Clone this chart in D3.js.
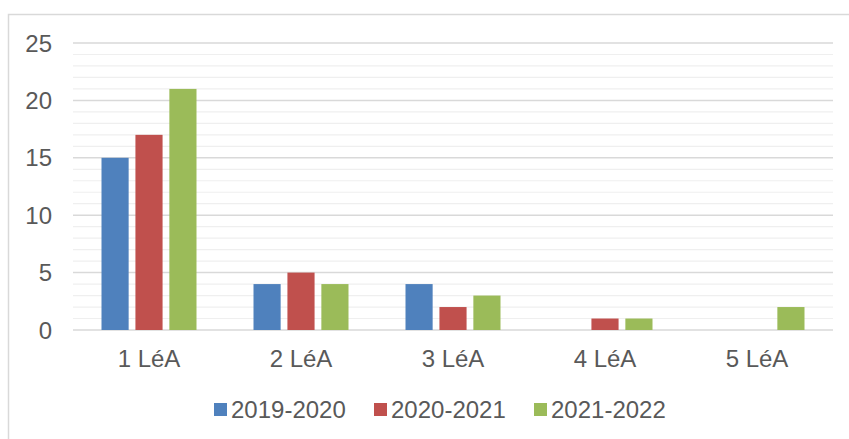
<!DOCTYPE html>
<html>
<head>
<meta charset="utf-8">
<script src="https://cdn.jsdelivr.net/npm/d3@7"></script>
<style>
  body { margin: 0; background: #fff; }
  text { font-family: "Liberation Sans", Arial, sans-serif; fill: #595959; }
</style>
</head>
<body>
<svg id="chart" width="849" height="439"></svg>
<script>
// Data
var categories = ["1 LéA", "2 LéA", "3 LéA", "4 LéA", "5 LéA"];
var series = ["2019-2020", "2020-2021", "2021-2022"];
var values_2019 = [15, 4, 4, 0, 0];
var values_2020 = [17, 5, 2, 1, 0];
var values_2021 = [21, 4, 3, 1, 2];
var yTicks = [0, 5, 10, 15, 20, 25];
var colors = ["#4F81BD", "#C0504D", "#9BBB59"];

var allValues = [values_2019, values_2020, values_2021];

var svg = d3.select("#chart");

// outer frame
svg.append("rect")
    .attr("x", 8.5).attr("y", 14.5)
    .attr("width", 900).attr("height", 500)
    .attr("fill", "none")
    .attr("stroke", "#d9d9d9")
    .attr("stroke-width", 1.5);

var x = d3.scaleBand().domain(categories).range([73, 833]);
var xSub = d3.scaleBand().domain(series).range([28.5, 123.5]).paddingInner(0.2);
var y = d3.scaleLinear().domain([0, 25]).range([330, 43]);

// minor gridlines
var minor = d3.range(0, 26).filter(function(d) { return d % 5 != 0; });
svg.append("g").selectAll("line").data(minor).enter().append("line")
    .attr("x1", 73).attr("x2", 833)
    .attr("y1", function(d) { return y(d); })
    .attr("y2", function(d) { return y(d); })
    .attr("stroke", "#efefef")
    .attr("stroke-width", 1.2);

// major gridlines
svg.append("g").selectAll("line").data(yTicks).enter().append("line")
    .attr("x1", 73).attr("x2", 833)
    .attr("y1", function(d) { return y(d); })
    .attr("y2", function(d) { return y(d); })
    .attr("stroke", "#d9d9d9")
    .attr("stroke-width", 1.5);

// y labels
svg.append("g").selectAll("text").data(yTicks).enter().append("text")
    .attr("x", 52)
    .attr("y", function(d) { return y(d); })
    .attr("dy", "0.36em")
    .attr("text-anchor", "end")
    .attr("font-size", "24px")
    .text(function(d) { return d; });

// bars, one group per series
series.forEach(function(s, i) {
    svg.append("g").selectAll("rect")
        .data(allValues[i].map(function(v, j) { return {cat: categories[j], value: v}; })
            .filter(function(d) { return d.value > 0; }))
        .enter().append("rect")
        .attr("x", function(d) { return x(d.cat) + xSub(s); })
        .attr("y", function(d) { return y(d.value); })
        .attr("width", xSub.bandwidth())
        .attr("height", function(d) { return y(0) - y(d.value); })
        .attr("fill", colors[i]);
});

// category labels
svg.append("g").selectAll("text").data(categories).enter().append("text")
    .attr("x", function(d) { return x(d) + x.bandwidth() / 2; })
    .attr("y", 367)
    .attr("text-anchor", "middle")
    .attr("font-size", "24px")
    .text(function(d) { return d; });

// legend
var legendX = [214, 374, 534];
var legend = svg.append("g").selectAll("g").data(series).enter().append("g")
    .attr("transform", function(d, i) { return "translate(" + legendX[i] + ",0)"; });
legend.append("rect")
    .attr("x", 0).attr("y", 403)
    .attr("width", 13).attr("height", 13)
    .attr("fill", function(d, i) { return colors[i]; });
legend.append("text")
    .attr("x", 17).attr("y", 418)
    .attr("font-size", "24px")
    .text(function(d) { return d; });
</script>
</body>
</html>
